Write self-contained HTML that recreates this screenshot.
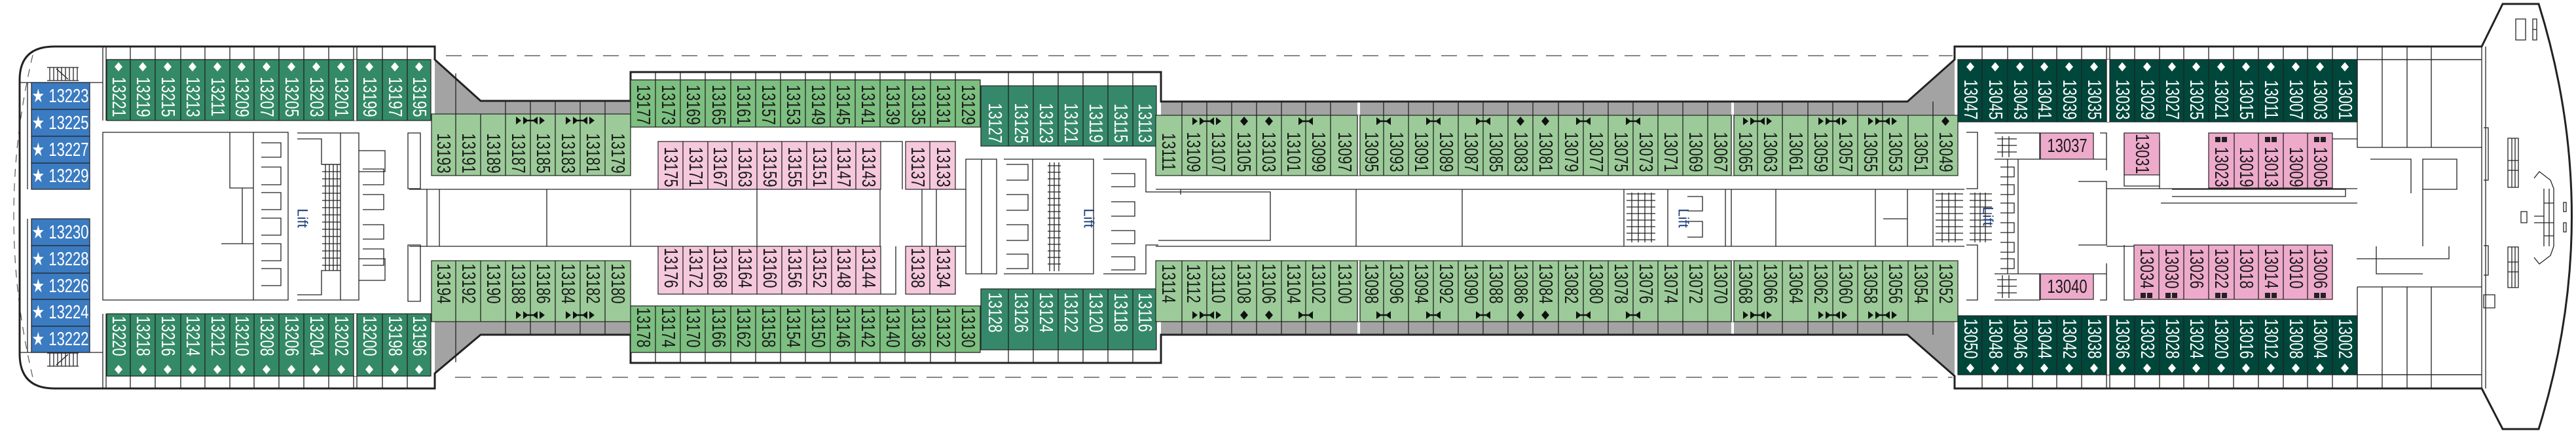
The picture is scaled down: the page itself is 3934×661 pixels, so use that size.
<!DOCTYPE html>
<html><head><meta charset="utf-8">
<style>
html,body{margin:0;padding:0;background:#fff;}
svg{display:block;}
.t{font-family:"Liberation Sans",sans-serif;font-size:22px;text-anchor:middle;dominant-baseline:central;fill:#1a1a1a;}
.w{fill:#fff;}
.h{font-family:"Liberation Sans",sans-serif;font-size:22px;text-anchor:middle;dominant-baseline:central;}
.l{font-family:"Liberation Sans",sans-serif;font-size:22px;text-anchor:middle;dominant-baseline:central;fill:#1d3f7d;}
.ln{fill:none;stroke:#222;stroke-width:1.3;}
.bd{stroke:#222;stroke-width:1.2;}
</style></head>
<body>
<svg width="3934" height="661" viewBox="0 0 3934 661" xmlns="http://www.w3.org/2000/svg">
<defs>
<path id="dm" d="M-6,0L0,-7L6,0L0,7Z"/>
<g id="ib"><path d="M-11,-6L-3,0L-11,6Z M11,-6L3,0L11,6Z" fill="#111"/><path d="M-4,0H4" stroke="#111" stroke-width="2.5"/></g>
<g id="ic"><path d="M-22,-6L-14,0L-22,6Z M-11,-6L-3,0L-11,6Z M11,-6L3,0L11,6Z M14,-6L22,0L14,6Z" fill="#111"/><path d="M-4,0H4" stroke="#111" stroke-width="2.5"/></g>
<g id="sq"><rect x="-9" y="-4" width="8" height="8" fill="#222"/><rect x="1" y="-4" width="8" height="8" fill="#222"/></g>
</defs>

<!-- grey fills -->
<path d="M664,91L734,154L734,174L664,174Z" fill="#a3a3a3"/>
<path d="M734,154H963V174H734Z" fill="#a3a3a3"/>
<path d="M664,570L734,511L734,491L664,491Z" fill="#a3a3a3"/>
<path d="M734,491H963V511H734Z" fill="#a3a3a3"/>
<path d="M1773,155H2913V176H1773Z" fill="#a3a3a3"/>
<path d="M1773,491H2913V511H1773Z" fill="#a3a3a3"/>
<path d="M2913,155L2985,91V176H2913Z" fill="#a3a3a3"/>
<path d="M2913,511L2985,574V491H2913Z" fill="#a3a3a3"/>
<path class="ln" d="M696,112V174M696,491V553M772,154V174M810,154V174M848,154V174M886,154V174M924,154V174M772,491V511M810,491V511M848,491V511M886,491V511M924,491V511"/>
<path class="ln" d="M1805,155V176M1843,155V176M1881,155V176M1919,155V176M1957,155V176M1994,155V176M2032,155V176M2075,155V176M2113,155V176M2151,155V176M2189,155V176M2227,155V176M2265,155V176M2303,155V176M2341,155V176M2380,155V176M2418,155V176M2456,155V176M2494,155V176M2532,155V176M2570,155V176M2608,155V176M2646,155V176M2684,155V176M2722,155V176M2761,155V176M2799,155V176M2837,155V176M2875,155V176M2952,155V176"/>
<path class="ln" d="M1805,491V511M1843,491V511M1881,491V511M1919,491V511M1957,491V511M1994,491V511M2032,491V511M2075,491V511M2113,491V511M2151,491V511M2189,491V511M2227,491V511M2265,491V511M2303,491V511M2341,491V511M2380,491V511M2418,491V511M2456,491V511M2494,491V511M2532,491V511M2570,491V511M2608,491V511M2646,491V511M2684,491V511M2722,491V511M2761,491V511M2799,491V511M2837,491V511M2875,491V511M2952,491V511"/>
<rect x="2073" y="155" width="4" height="113" fill="#fff"/><rect x="2644" y="155" width="4" height="113" fill="#fff"/>
<rect x="2073" y="398" width="4" height="113" fill="#fff"/><rect x="2644" y="398" width="4" height="113" fill="#fff"/>

<!-- dashed lines -->
<path d="M681,85H2982M695,576H2982" stroke="#888" stroke-width="2" stroke-dasharray="24,16" fill="none"/>
<path d="M50,84Q-8,330 50,576" stroke="#555" stroke-width="1.2" stroke-dasharray="12,10" fill="none"/>

<!-- balconies -->
<path class="ln" d="M163,91H658M163,574H658M199,71V91M237,71V91M276,71V91M313,71V91M351,71V91M388,71V91M426,71V91M464,71V91M502,71V91M540,71V91M545,71V91M584,71V91M622,71V91M199,574V593M237,574V593M276,574V593M313,574V593M351,574V593M388,574V593M426,574V593M464,574V593M502,574V593M540,574V593M545,574V593M584,574V593M622,574V593"/>
<path class="ln" d="M963,122H1497M963,538H1497M1001,110V122M1039,110V122M1077,110V122M1116,110V122M1154,110V122M1192,110V122M1230,110V122M1268,110V122M1306,110V122M1344,110V122M1382,110V122M1421,110V122M1459,110V122M1001,538V554M1039,538V554M1077,538V554M1116,538V554M1154,538V554M1192,538V554M1230,538V554M1268,538V554M1306,538V554M1344,538V554M1382,538V554M1421,538V554M1459,538V554"/>
<path class="ln" d="M1540,110V131M1578,110V131M1616,110V131M1654,110V131M1692,110V131M1730,110V131M1540,534V554M1578,534V554M1616,534V554M1654,534V554M1692,534V554M1730,534V554"/>
<path class="ln" d="M2990,91H3790M2990,572H3790M3027,71V91M3066,71V91M3104,71V91M3141,71V91M3179,71V91M3217,71V91M3222,71V91M3260,71V91M3298,71V91M3335,71V91M3373,71V91M3411,71V91M3449,71V91M3487,71V91M3524,71V91M3562,71V91M3600,71V91M3638,71V91M3676,71V91M3713,71V91M3027,572V593M3066,572V593M3104,572V593M3141,572V593M3179,572V593M3217,572V593M3222,572V593M3260,572V593M3298,572V593M3335,572V593M3373,572V593M3411,572V593M3449,572V593M3487,572V593M3524,572V593M3562,572V593M3600,572V593M3638,572V593M3676,572V593M3713,572V593"/>

<!-- hull -->
<path d="M83,71H664V91L734,154H963V110H1773V155H2913L2985,91V71H3790L3822,6H3877Q3978,330 3877,655H3822L3790,593H2985V574L2913,511H1773V554H963V511H734L664,570V593H83Q30,593 30,540V122Q30,71 83,71Z" fill="none" stroke="#222" stroke-width="3"/>
<path class="ln" d="M3790,71V593M3796,71V593M157,71V184M162,71V184M157,479V593M162,479V593M30,126H157M30,538H157M42,126V289M42,334V538"/>

<!-- left block blue -->
<g fill="#3b7bc1" class="bd">
<rect x="48" y="126" width="89" height="41"/><rect x="48" y="167" width="89" height="41"/><rect x="48" y="208" width="89" height="41"/><rect x="48" y="249" width="89" height="40"/>
<rect x="48" y="334" width="89" height="41"/><rect x="48" y="375" width="89" height="42"/><rect x="48" y="417" width="89" height="40"/><rect x="48" y="457" width="89" height="41"/><rect x="48" y="498" width="89" height="40"/>
</g>
<g class="h" fill="#fff">
<text transform="translate(92,147) scale(1,1.3)">★ 13223</text>
<text transform="translate(92,188) scale(1,1.3)">★ 13225</text>
<text transform="translate(92,229) scale(1,1.3)">★ 13227</text>
<text transform="translate(92,269) scale(1,1.3)">★ 13229</text>
<text transform="translate(92,355) scale(1,1.3)">★ 13230</text>
<text transform="translate(92,396) scale(1,1.3)">★ 13228</text>
<text transform="translate(92,437) scale(1,1.3)">★ 13226</text>
<text transform="translate(92,477) scale(1,1.3)">★ 13224</text>
<text transform="translate(92,518) scale(1,1.3)">★ 13222</text>
</g>
<!-- stair icons left -->
<path class="ln" d="M72,103H120M72,123H120M76,103V123M82,103V123M88,103V123M94,103V123M100,103V123M106,103V123M112,103V123M118,103V123M86,105L104,121M72,539H120M72,559H120M76,539V559M82,539V559M88,539V559M94,539V559M100,539V559M106,539V559M112,539V559M118,539V559M86,557L104,541"/>

<!-- left block cabins -->
<rect x="163" y="91" width="495" height="93" fill="#348a66" class="bd"/>
<rect x="163" y="479" width="495" height="95" fill="#348a66" class="bd"/>
<rect x="540" y="91" width="5" height="93" fill="#fff"/><rect x="540" y="479" width="5" height="95" fill="#fff"/>
<path class="ln" d="M199,91V184M237,91V184M276,91V184M313,91V184M351,91V184M388,91V184M426,91V184M464,91V184M502,91V184M540,91V184M545,91V184M584,91V184M622,91V184M199,479V574M237,479V574M276,479V574M313,479V574M351,479V574M388,479V574M426,479V574M464,479V574M502,479V574M540,479V574M545,479V574M584,479V574M622,479V574"/>
<g fill="#fff">
<use href="#dm" x="181" y="102"/><use href="#dm" x="218" y="102"/><use href="#dm" x="256" y="102"/><use href="#dm" x="294" y="102"/><use href="#dm" x="332" y="102"/><use href="#dm" x="369" y="102"/><use href="#dm" x="407" y="102"/><use href="#dm" x="445" y="102"/><use href="#dm" x="483" y="102"/><use href="#dm" x="521" y="102"/><use href="#dm" x="564" y="102"/><use href="#dm" x="603" y="102"/><use href="#dm" x="640" y="102"/>
<use href="#dm" x="181" y="564"/><use href="#dm" x="218" y="564"/><use href="#dm" x="256" y="564"/><use href="#dm" x="294" y="564"/><use href="#dm" x="332" y="564"/><use href="#dm" x="369" y="564"/><use href="#dm" x="407" y="564"/><use href="#dm" x="445" y="564"/><use href="#dm" x="483" y="564"/><use href="#dm" x="521" y="564"/><use href="#dm" x="564" y="564"/><use href="#dm" x="603" y="564"/><use href="#dm" x="640" y="564"/>
</g>
<g class="t w">
<text transform="translate(181,148) rotate(90) scale(1,1.3)">13221</text>
<text transform="translate(218,148) rotate(90) scale(1,1.3)">13219</text>
<text transform="translate(256,148) rotate(90) scale(1,1.3)">13215</text>
<text transform="translate(294,148) rotate(90) scale(1,1.3)">13213</text>
<text transform="translate(332,148) rotate(90) scale(1,1.3)">13211</text>
<text transform="translate(369,148) rotate(90) scale(1,1.3)">13209</text>
<text transform="translate(407,148) rotate(90) scale(1,1.3)">13207</text>
<text transform="translate(445,148) rotate(90) scale(1,1.3)">13205</text>
<text transform="translate(483,148) rotate(90) scale(1,1.3)">13203</text>
<text transform="translate(521,148) rotate(90) scale(1,1.3)">13201</text>
<text transform="translate(564,148) rotate(90) scale(1,1.3)">13199</text>
<text transform="translate(603,148) rotate(90) scale(1,1.3)">13197</text>
<text transform="translate(640,148) rotate(90) scale(1,1.3)">13195</text>
<text transform="translate(181,513) rotate(90) scale(1,1.3)">13220</text>
<text transform="translate(218,513) rotate(90) scale(1,1.3)">13218</text>
<text transform="translate(256,513) rotate(90) scale(1,1.3)">13216</text>
<text transform="translate(294,513) rotate(90) scale(1,1.3)">13214</text>
<text transform="translate(332,513) rotate(90) scale(1,1.3)">13212</text>
<text transform="translate(369,513) rotate(90) scale(1,1.3)">13210</text>
<text transform="translate(407,513) rotate(90) scale(1,1.3)">13208</text>
<text transform="translate(445,513) rotate(90) scale(1,1.3)">13206</text>
<text transform="translate(483,513) rotate(90) scale(1,1.3)">13204</text>
<text transform="translate(521,513) rotate(90) scale(1,1.3)">13202</text>
<text transform="translate(564,513) rotate(90) scale(1,1.3)">13200</text>
<text transform="translate(603,513) rotate(90) scale(1,1.3)">13198</text>
<text transform="translate(640,513) rotate(90) scale(1,1.3)">13196</text>
</g>

<!-- left block interior -->
<path class="ln" d="M157,202H387V458H157Z M351,202V287H387 M370,287V372 M338,372H387 M387,202H440V458H387 M399,218H429V240H399 M399,255H429V282H399 M399,294H429V320H399 M399,333H429V359H399 M399,372H429V398H399 M399,410H429V436H399 M454,203H548V458H454 M454,212H491V251H520V203 M454,450H491V413H520V458 M520,251V413 M548,230H588V262H548 M548,395H588V428H548 M554,258H586V282H554 M554,297H586V320H554 M554,343H586V365H554 M554,380H586V405H554 M623,203H642V288H623Z M623,374H642V460H623Z"/>
<path class="ln" d="M492,251H520M492,262H520M492,273H520M492,284H520M492,295H520M492,306H520M492,317H520M492,328H520M492,339H520M492,350H520M492,361H520M492,372H520M492,383H520M492,394H520M492,405H520M497,251V413M503,251V413M509,251V413M515,251V413" stroke-width="0.8"/>
<text class="l" transform="translate(462,333) rotate(90)">Lift</text>

<!-- mid-left inner cabins (light green) -->
<rect x="659" y="174" width="304" height="94" fill="#9ccb99" class="bd"/>
<rect x="659" y="398" width="304" height="93" fill="#9ccb99" class="bd"/>
<path class="ln" d="M696,174V268M734,174V268M772,174V268M810,174V268M848,174V268M886,174V268M924,174V268M696,398V491M734,398V491M772,398V491M810,398V491M848,398V491M886,398V491M924,398V491"/>
<use href="#ic" x="810" y="184"/><use href="#ic" x="886" y="184"/><use href="#ic" x="810" y="481"/><use href="#ic" x="886" y="481"/>
<g class="t">
<text transform="translate(677,234) rotate(90) scale(1,1.3)">13193</text>
<text transform="translate(715,234) rotate(90) scale(1,1.3)">13191</text>
<text transform="translate(753,234) rotate(90) scale(1,1.3)">13189</text>
<text transform="translate(791,234) rotate(90) scale(1,1.3)">13187</text>
<text transform="translate(829,234) rotate(90) scale(1,1.3)">13185</text>
<text transform="translate(867,234) rotate(90) scale(1,1.3)">13183</text>
<text transform="translate(905,234) rotate(90) scale(1,1.3)">13181</text>
<text transform="translate(943,234) rotate(90) scale(1,1.3)">13179</text>
<text transform="translate(677,433) rotate(90) scale(1,1.3)">13194</text>
<text transform="translate(715,433) rotate(90) scale(1,1.3)">13192</text>
<text transform="translate(753,433) rotate(90) scale(1,1.3)">13190</text>
<text transform="translate(791,433) rotate(90) scale(1,1.3)">13188</text>
<text transform="translate(829,433) rotate(90) scale(1,1.3)">13186</text>
<text transform="translate(867,433) rotate(90) scale(1,1.3)">13184</text>
<text transform="translate(905,433) rotate(90) scale(1,1.3)">13182</text>
<text transform="translate(943,433) rotate(90) scale(1,1.3)">13180</text>
</g>

<!-- mid block 963-1497 -->
<rect x="963" y="122" width="534" height="72" fill="#7cbf80" class="bd"/>
<rect x="963" y="467" width="534" height="71" fill="#7cbf80" class="bd"/>
<path class="ln" d="M1001,122V194M1039,122V194M1077,122V194M1116,122V194M1154,122V194M1192,122V194M1230,122V194M1268,122V194M1306,122V194M1344,122V194M1382,122V194M1421,122V194M1459,122V194M1001,467V538M1039,467V538M1077,467V538M1116,467V538M1154,467V538M1192,467V538M1230,467V538M1268,467V538M1306,467V538M1344,467V538M1382,467V538M1421,467V538M1459,467V538"/>
<g class="t">
<text transform="translate(982,160) rotate(90) scale(1,1.3)">13177</text>
<text transform="translate(1020,160) rotate(90) scale(1,1.3)">13173</text>
<text transform="translate(1058,160) rotate(90) scale(1,1.3)">13169</text>
<text transform="translate(1097,160) rotate(90) scale(1,1.3)">13165</text>
<text transform="translate(1135,160) rotate(90) scale(1,1.3)">13161</text>
<text transform="translate(1173,160) rotate(90) scale(1,1.3)">13157</text>
<text transform="translate(1211,160) rotate(90) scale(1,1.3)">13153</text>
<text transform="translate(1249,160) rotate(90) scale(1,1.3)">13149</text>
<text transform="translate(1287,160) rotate(90) scale(1,1.3)">13145</text>
<text transform="translate(1325,160) rotate(90) scale(1,1.3)">13141</text>
<text transform="translate(1363,160) rotate(90) scale(1,1.3)">13139</text>
<text transform="translate(1402,160) rotate(90) scale(1,1.3)">13135</text>
<text transform="translate(1440,160) rotate(90) scale(1,1.3)">13131</text>
<text transform="translate(1478,160) rotate(90) scale(1,1.3)">13129</text>
<text transform="translate(982,500) rotate(90) scale(1,1.3)">13178</text>
<text transform="translate(1020,500) rotate(90) scale(1,1.3)">13174</text>
<text transform="translate(1058,500) rotate(90) scale(1,1.3)">13170</text>
<text transform="translate(1097,500) rotate(90) scale(1,1.3)">13166</text>
<text transform="translate(1135,500) rotate(90) scale(1,1.3)">13162</text>
<text transform="translate(1173,500) rotate(90) scale(1,1.3)">13158</text>
<text transform="translate(1211,500) rotate(90) scale(1,1.3)">13154</text>
<text transform="translate(1249,500) rotate(90) scale(1,1.3)">13150</text>
<text transform="translate(1287,500) rotate(90) scale(1,1.3)">13146</text>
<text transform="translate(1325,500) rotate(90) scale(1,1.3)">13142</text>
<text transform="translate(1363,500) rotate(90) scale(1,1.3)">13140</text>
<text transform="translate(1402,500) rotate(90) scale(1,1.3)">13136</text>
<text transform="translate(1440,500) rotate(90) scale(1,1.3)">13132</text>
<text transform="translate(1478,500) rotate(90) scale(1,1.3)">13130</text>
</g>

<!-- pink mid-left -->
<rect x="1005" y="216" width="340" height="73" fill="#f6c8dc" class="bd"/>
<rect x="1383" y="216" width="76" height="73" fill="#f6c8dc" class="bd"/>
<rect x="1005" y="376" width="340" height="73" fill="#f6c8dc" class="bd"/>
<rect x="1383" y="376" width="76" height="73" fill="#f6c8dc" class="bd"/>
<path class="ln" d="M1043,216V289M1081,216V289M1118,216V289M1156,216V289M1194,216V289M1232,216V289M1270,216V289M1307,216V289M1420,216V289M1043,376V449M1081,376V449M1118,376V449M1156,376V449M1194,376V449M1232,376V449M1270,376V449M1307,376V449M1420,376V449 M1345,216H1378V289 M1345,449H1368V376"/>
<g class="t">
<text transform="translate(1024,255) rotate(90) scale(1,1.3)">13175</text>
<text transform="translate(1062,255) rotate(90) scale(1,1.3)">13171</text>
<text transform="translate(1099,255) rotate(90) scale(1,1.3)">13167</text>
<text transform="translate(1137,255) rotate(90) scale(1,1.3)">13163</text>
<text transform="translate(1175,255) rotate(90) scale(1,1.3)">13159</text>
<text transform="translate(1213,255) rotate(90) scale(1,1.3)">13155</text>
<text transform="translate(1251,255) rotate(90) scale(1,1.3)">13151</text>
<text transform="translate(1288,255) rotate(90) scale(1,1.3)">13147</text>
<text transform="translate(1326,255) rotate(90) scale(1,1.3)">13143</text>
<text transform="translate(1401,255) rotate(90) scale(1,1.3)">13137</text>
<text transform="translate(1440,255) rotate(90) scale(1,1.3)">13133</text>
<text transform="translate(1024,409) rotate(90) scale(1,1.3)">13176</text>
<text transform="translate(1062,409) rotate(90) scale(1,1.3)">13172</text>
<text transform="translate(1099,409) rotate(90) scale(1,1.3)">13168</text>
<text transform="translate(1137,409) rotate(90) scale(1,1.3)">13164</text>
<text transform="translate(1175,409) rotate(90) scale(1,1.3)">13160</text>
<text transform="translate(1213,409) rotate(90) scale(1,1.3)">13156</text>
<text transform="translate(1251,409) rotate(90) scale(1,1.3)">13152</text>
<text transform="translate(1288,409) rotate(90) scale(1,1.3)">13148</text>
<text transform="translate(1326,409) rotate(90) scale(1,1.3)">13144</text>
<text transform="translate(1401,409) rotate(90) scale(1,1.3)">13138</text>
<text transform="translate(1440,409) rotate(90) scale(1,1.3)">13134</text>
</g>

<!-- dark green middle block -->
<rect x="1498" y="131" width="268" height="92" fill="#35896a" class="bd"/>
<rect x="1498" y="441" width="268" height="93" fill="#35896a" class="bd"/>
<path class="ln" d="M1540,131V223M1578,131V223M1616,131V223M1654,131V223M1692,131V223M1730,131V223M1540,441V534M1578,441V534M1616,441V534M1654,441V534M1692,441V534M1730,441V534"/>
<g class="t w">
<text transform="translate(1519,188) rotate(90) scale(1,1.3)">13127</text>
<text transform="translate(1559,188) rotate(90) scale(1,1.3)">13125</text>
<text transform="translate(1597,188) rotate(90) scale(1,1.3)">13123</text>
<text transform="translate(1635,188) rotate(90) scale(1,1.3)">13121</text>
<text transform="translate(1673,188) rotate(90) scale(1,1.3)">13119</text>
<text transform="translate(1711,188) rotate(90) scale(1,1.3)">13115</text>
<text transform="translate(1748,188) rotate(90) scale(1,1.3)">13113</text>
<text transform="translate(1519,477) rotate(90) scale(1,1.3)">13128</text>
<text transform="translate(1559,477) rotate(90) scale(1,1.3)">13126</text>
<text transform="translate(1597,477) rotate(90) scale(1,1.3)">13124</text>
<text transform="translate(1635,477) rotate(90) scale(1,1.3)">13122</text>
<text transform="translate(1673,477) rotate(90) scale(1,1.3)">13120</text>
<text transform="translate(1711,477) rotate(90) scale(1,1.3)">13118</text>
<text transform="translate(1748,477) rotate(90) scale(1,1.3)">13116</text>
</g>

<!-- center lift block + corridor -->
<path class="ln" d="M625,289H1005M625,376H1005M1459,289H1475M1459,376H1475M652,289V376M671,289V376M835,289V376M963,289V376M1156,289V376M1344,289V376M1408,289V376M1430,289V376"/>
<path class="ln" d="M1475,243H1522V418H1475Z M1499,243V418 M1533,243H1670V418H1533 M1537,251H1570V275H1537 M1537,297H1570V321H1537 M1537,343H1570V367H1537 M1537,388H1570V410H1537 M1577,243V418 M1685,243H1750V293H1769 M1685,418H1750V374H1769 M1697,265H1733V285H1697 M1697,308H1733V330H1697 M1697,352H1733V372H1697 M1697,392H1733V412H1697"/>
<path class="ln" d="M1600,253H1620M1600,263H1620M1600,273H1620M1600,283H1620M1600,293H1620M1600,303H1620M1600,313H1620M1600,323H1620M1600,333H1620M1600,343H1620M1600,353H1620M1600,363H1620M1600,373H1620M1600,383H1620M1600,393H1620M1600,403H1620M1603,248V414M1610,248V414M1617,248V414" stroke-width="0.8"/>
<text class="l" transform="translate(1663,333) rotate(90)">Lift</text>
<path class="ln" d="M1765,289H3000M1765,376H3000M1769,293H1940V367H1769 M1803,289V297 M2071,289V376M2233,289V376M2480,289V376M2547,289V376M2564,289H2635V376H2564 M2577,300H2600V322H2577 M2577,338H2600V362H2577 M2644,289V376M2712,289V376M2864,289V376M2876,334H2913V376 M2913,289V376M2952,289V376"/>
<path class="ln" d="M2484,296H2528M2484,306H2528M2484,316H2528M2484,326H2528M2484,336H2528M2484,346H2528M2484,356H2528M2484,366H2528M2492,294V370M2502,294V370M2512,294V370M2522,294V370M2956,296H2998M2956,306H2998M2956,316H2998M2956,326H2998M2956,336H2998M2956,346H2998M2956,356H2998M2956,366H2998M2966,294V370M2976,294V370M2986,294V370" stroke-width="0.8"/>
<text class="l" transform="translate(2571,333) rotate(90)">Lift</text>

<!-- mid-right light green rows -->
<rect x="1765" y="176" width="1225" height="92" fill="#9ccb99" class="bd"/>
<rect x="1765" y="398" width="1225" height="93" fill="#9ccb99" class="bd"/>
<rect x="2073" y="176" width="4" height="92" fill="#fff"/><rect x="2644" y="176" width="4" height="92" fill="#fff"/>
<rect x="2073" y="398" width="4" height="93" fill="#fff"/><rect x="2644" y="398" width="4" height="93" fill="#fff"/>
<path class="ln" d="M1805,176V268M1843,176V268M1881,176V268M1919,176V268M1957,176V268M1994,176V268M2032,176V268M2073,176V268M2077,176V268M2113,176V268M2151,176V268M2189,176V268M2227,176V268M2265,176V268M2303,176V268M2341,176V268M2380,176V268M2418,176V268M2456,176V268M2494,176V268M2532,176V268M2570,176V268M2608,176V268M2644,176V268M2648,176V268M2684,176V268M2722,176V268M2761,176V268M2799,176V268M2837,176V268M2875,176V268M2914,176V268M2952,176V268"/>
<path class="ln" d="M1805,398V491M1843,398V491M1881,398V491M1919,398V491M1957,398V491M1994,398V491M2032,398V491M2073,398V491M2077,398V491M2113,398V491M2151,398V491M2189,398V491M2227,398V491M2265,398V491M2303,398V491M2341,398V491M2380,398V491M2418,398V491M2456,398V491M2494,398V491M2532,398V491M2570,398V491M2608,398V491M2644,398V491M2648,398V491M2684,398V491M2722,398V491M2761,398V491M2799,398V491M2837,398V491M2875,398V491M2914,398V491M2952,398V491"/>
<g>
<use href="#ic" x="1843" y="185"/><use href="#ib" x="1994" y="185"/><use href="#ib" x="2113" y="185"/><use href="#ib" x="2189" y="185"/><use href="#ib" x="2265" y="185"/><use href="#ib" x="2418" y="185"/><use href="#ib" x="2494" y="185"/><use href="#ic" x="2684" y="185"/><use href="#ic" x="2799" y="185"/><use href="#ic" x="2875" y="185"/>
<use href="#ic" x="1843" y="481"/><use href="#ib" x="1994" y="481"/><use href="#ib" x="2113" y="481"/><use href="#ib" x="2189" y="481"/><use href="#ib" x="2265" y="481"/><use href="#ib" x="2418" y="481"/><use href="#ib" x="2494" y="481"/><use href="#ic" x="2684" y="481"/><use href="#ic" x="2799" y="481"/><use href="#ic" x="2875" y="481"/>
</g>
<g fill="#111">
<use href="#dm" x="1900" y="185"/><use href="#dm" x="1938" y="185"/><use href="#dm" x="2322" y="185"/><use href="#dm" x="2360" y="185"/><use href="#dm" x="2971" y="185"/>
<use href="#dm" x="1900" y="481"/><use href="#dm" x="1938" y="481"/><use href="#dm" x="2322" y="481"/><use href="#dm" x="2360" y="481"/>
</g>
<g class="t">
<text transform="translate(1784,232) rotate(90) scale(1,1.3)">13111</text>
<text transform="translate(1822,232) rotate(90) scale(1,1.3)">13109</text>
<text transform="translate(1860,232) rotate(90) scale(1,1.3)">13107</text>
<text transform="translate(1899,232) rotate(90) scale(1,1.3)">13105</text>
<text transform="translate(1937,232) rotate(90) scale(1,1.3)">13103</text>
<text transform="translate(1975,232) rotate(90) scale(1,1.3)">13101</text>
<text transform="translate(2013,232) rotate(90) scale(1,1.3)">13099</text>
<text transform="translate(2053,232) rotate(90) scale(1,1.3)">13097</text>
<text transform="translate(2094,232) rotate(90) scale(1,1.3)">13095</text>
<text transform="translate(2132,232) rotate(90) scale(1,1.3)">13093</text>
<text transform="translate(2170,232) rotate(90) scale(1,1.3)">13091</text>
<text transform="translate(2208,232) rotate(90) scale(1,1.3)">13089</text>
<text transform="translate(2246,232) rotate(90) scale(1,1.3)">13087</text>
<text transform="translate(2284,232) rotate(90) scale(1,1.3)">13085</text>
<text transform="translate(2322,232) rotate(90) scale(1,1.3)">13083</text>
<text transform="translate(2360,232) rotate(90) scale(1,1.3)">13081</text>
<text transform="translate(2399,232) rotate(90) scale(1,1.3)">13079</text>
<text transform="translate(2437,232) rotate(90) scale(1,1.3)">13077</text>
<text transform="translate(2475,232) rotate(90) scale(1,1.3)">13075</text>
<text transform="translate(2513,232) rotate(90) scale(1,1.3)">13073</text>
<text transform="translate(2551,232) rotate(90) scale(1,1.3)">13071</text>
<text transform="translate(2589,232) rotate(90) scale(1,1.3)">13069</text>
<text transform="translate(2627,232) rotate(90) scale(1,1.3)">13067</text>
<text transform="translate(2665,232) rotate(90) scale(1,1.3)">13065</text>
<text transform="translate(2703,232) rotate(90) scale(1,1.3)">13063</text>
<text transform="translate(2742,232) rotate(90) scale(1,1.3)">13061</text>
<text transform="translate(2780,232) rotate(90) scale(1,1.3)">13059</text>
<text transform="translate(2818,232) rotate(90) scale(1,1.3)">13057</text>
<text transform="translate(2856,232) rotate(90) scale(1,1.3)">13055</text>
<text transform="translate(2894,232) rotate(90) scale(1,1.3)">13053</text>
<text transform="translate(2933,232) rotate(90) scale(1,1.3)">13051</text>
<text transform="translate(2971,232) rotate(90) scale(1,1.3)">13049</text>
<text transform="translate(1784,433) rotate(90) scale(1,1.3)">13114</text>
<text transform="translate(1822,433) rotate(90) scale(1,1.3)">13112</text>
<text transform="translate(1860,433) rotate(90) scale(1,1.3)">13110</text>
<text transform="translate(1899,433) rotate(90) scale(1,1.3)">13108</text>
<text transform="translate(1937,433) rotate(90) scale(1,1.3)">13106</text>
<text transform="translate(1975,433) rotate(90) scale(1,1.3)">13104</text>
<text transform="translate(2013,433) rotate(90) scale(1,1.3)">13102</text>
<text transform="translate(2053,433) rotate(90) scale(1,1.3)">13100</text>
<text transform="translate(2094,433) rotate(90) scale(1,1.3)">13098</text>
<text transform="translate(2132,433) rotate(90) scale(1,1.3)">13096</text>
<text transform="translate(2170,433) rotate(90) scale(1,1.3)">13094</text>
<text transform="translate(2208,433) rotate(90) scale(1,1.3)">13092</text>
<text transform="translate(2246,433) rotate(90) scale(1,1.3)">13090</text>
<text transform="translate(2284,433) rotate(90) scale(1,1.3)">13088</text>
<text transform="translate(2322,433) rotate(90) scale(1,1.3)">13086</text>
<text transform="translate(2360,433) rotate(90) scale(1,1.3)">13084</text>
<text transform="translate(2399,433) rotate(90) scale(1,1.3)">13082</text>
<text transform="translate(2437,433) rotate(90) scale(1,1.3)">13080</text>
<text transform="translate(2475,433) rotate(90) scale(1,1.3)">13078</text>
<text transform="translate(2513,433) rotate(90) scale(1,1.3)">13076</text>
<text transform="translate(2551,433) rotate(90) scale(1,1.3)">13074</text>
<text transform="translate(2589,433) rotate(90) scale(1,1.3)">13072</text>
<text transform="translate(2627,433) rotate(90) scale(1,1.3)">13070</text>
<text transform="translate(2665,433) rotate(90) scale(1,1.3)">13068</text>
<text transform="translate(2703,433) rotate(90) scale(1,1.3)">13066</text>
<text transform="translate(2742,433) rotate(90) scale(1,1.3)">13064</text>
<text transform="translate(2780,433) rotate(90) scale(1,1.3)">13062</text>
<text transform="translate(2818,433) rotate(90) scale(1,1.3)">13060</text>
<text transform="translate(2856,433) rotate(90) scale(1,1.3)">13058</text>
<text transform="translate(2894,433) rotate(90) scale(1,1.3)">13056</text>
<text transform="translate(2933,433) rotate(90) scale(1,1.3)">13054</text>
<text transform="translate(2971,433) rotate(90) scale(1,1.3)">13052</text>
</g>

<!-- right block teal -->
<rect x="2990" y="91" width="610" height="95" fill="#00473b" class="bd"/>
<rect x="2990" y="482" width="610" height="90" fill="#00473b" class="bd"/>
<rect x="3217" y="91" width="5" height="95" fill="#fff"/><rect x="3217" y="482" width="5" height="90" fill="#fff"/>
<path class="ln" d="M3027,91V186M3066,91V186M3104,91V186M3141,91V186M3179,91V186M3217,91V186M3222,91V186M3260,91V186M3298,91V186M3335,91V186M3373,91V186M3411,91V186M3449,91V186M3487,91V186M3524,91V186M3562,91V186M3027,482V572M3066,482V572M3104,482V572M3141,482V572M3179,482V572M3217,482V572M3222,482V572M3260,482V572M3298,482V572M3335,482V572M3373,482V572M3411,482V572M3449,482V572M3487,482V572M3524,482V572M3562,482V572"/>
<g fill="#fff">
<use href="#dm" x="3009" y="102"/><use href="#dm" x="3047" y="102"/><use href="#dm" x="3085" y="102"/><use href="#dm" x="3122" y="102"/><use href="#dm" x="3160" y="102"/><use href="#dm" x="3198" y="102"/><use href="#dm" x="3241" y="102"/><use href="#dm" x="3279" y="102"/><use href="#dm" x="3317" y="102"/><use href="#dm" x="3354" y="102"/><use href="#dm" x="3392" y="102"/><use href="#dm" x="3430" y="102"/><use href="#dm" x="3468" y="102"/><use href="#dm" x="3506" y="102"/><use href="#dm" x="3543" y="102"/><use href="#dm" x="3581" y="102"/>
<use href="#dm" x="3009" y="562"/><use href="#dm" x="3047" y="562"/><use href="#dm" x="3085" y="562"/><use href="#dm" x="3122" y="562"/><use href="#dm" x="3160" y="562"/><use href="#dm" x="3198" y="562"/><use href="#dm" x="3241" y="562"/><use href="#dm" x="3279" y="562"/><use href="#dm" x="3317" y="562"/><use href="#dm" x="3354" y="562"/><use href="#dm" x="3392" y="562"/><use href="#dm" x="3430" y="562"/><use href="#dm" x="3468" y="562"/><use href="#dm" x="3506" y="562"/><use href="#dm" x="3543" y="562"/><use href="#dm" x="3581" y="562"/>
</g>
<g class="t w">
<text transform="translate(3009,152) rotate(90) scale(1,1.3)">13047</text>
<text transform="translate(3047,152) rotate(90) scale(1,1.3)">13045</text>
<text transform="translate(3085,152) rotate(90) scale(1,1.3)">13043</text>
<text transform="translate(3122,152) rotate(90) scale(1,1.3)">13041</text>
<text transform="translate(3160,152) rotate(90) scale(1,1.3)">13039</text>
<text transform="translate(3198,152) rotate(90) scale(1,1.3)">13035</text>
<text transform="translate(3241,152) rotate(90) scale(1,1.3)">13033</text>
<text transform="translate(3279,152) rotate(90) scale(1,1.3)">13029</text>
<text transform="translate(3317,152) rotate(90) scale(1,1.3)">13027</text>
<text transform="translate(3354,152) rotate(90) scale(1,1.3)">13025</text>
<text transform="translate(3392,152) rotate(90) scale(1,1.3)">13021</text>
<text transform="translate(3430,152) rotate(90) scale(1,1.3)">13015</text>
<text transform="translate(3468,152) rotate(90) scale(1,1.3)">13011</text>
<text transform="translate(3506,152) rotate(90) scale(1,1.3)">13007</text>
<text transform="translate(3543,152) rotate(90) scale(1,1.3)">13003</text>
<text transform="translate(3581,152) rotate(90) scale(1,1.3)">13001</text>
<text transform="translate(3009,517) rotate(90) scale(1,1.3)">13050</text>
<text transform="translate(3047,517) rotate(90) scale(1,1.3)">13048</text>
<text transform="translate(3085,517) rotate(90) scale(1,1.3)">13046</text>
<text transform="translate(3122,517) rotate(90) scale(1,1.3)">13044</text>
<text transform="translate(3160,517) rotate(90) scale(1,1.3)">13042</text>
<text transform="translate(3198,517) rotate(90) scale(1,1.3)">13038</text>
<text transform="translate(3241,517) rotate(90) scale(1,1.3)">13036</text>
<text transform="translate(3279,517) rotate(90) scale(1,1.3)">13032</text>
<text transform="translate(3317,517) rotate(90) scale(1,1.3)">13028</text>
<text transform="translate(3354,517) rotate(90) scale(1,1.3)">13024</text>
<text transform="translate(3392,517) rotate(90) scale(1,1.3)">13020</text>
<text transform="translate(3430,517) rotate(90) scale(1,1.3)">13016</text>
<text transform="translate(3468,517) rotate(90) scale(1,1.3)">13012</text>
<text transform="translate(3506,517) rotate(90) scale(1,1.3)">13008</text>
<text transform="translate(3543,517) rotate(90) scale(1,1.3)">13004</text>
<text transform="translate(3581,517) rotate(90) scale(1,1.3)">13002</text>
</g>

<!-- right block rooms -->
<path class="ln" d="M3600,91H3790M3600,91V225H3790M3638,91V225M3676,91V225M3713,91V225M3600,438H3790M3600,438V572H3790M3638,438V572M3676,438V572M3713,438V572"/>
<path class="ln" d="M3003,202H3020V288H3003M3003,374H3020V458H3003M3046,203H3115V243H3046M3046,418H3115V458H3046M3066,243V418M3082,243V418M3055,255H3076V270H3055M3055,282H3076V297H3055M3055,310H3076V325H3055M3055,340H3076V355H3055M3055,370H3076V385H3055M3055,395H3076V410H3055M3197,243H3217V260M3197,418H3217V402M3207,203H3217V260M3207,458H3217V402M3174,277H3217V374H3174M3217,288H3600M3217,376H3558M3244,203V284H3298M3244,374V458H3259M3298,216V288 M3300,310H3600M3317,289H3582V300H3317 M3620,243H3682V295M3700,243H3752V289H3700Z M3562,212H3600M3700,289V376M3629,376V418H3700M3599,395H3740V376"/>
<path class="ln" d="M3008,296H3042M3008,306H3042M3008,316H3042M3008,326H3042M3008,336H3042M3008,346H3042M3008,356H3042M3008,366H3042M3016,294V370M3024,294V370M3032,294V370M3050,212H3080M3050,222H3080M3050,232H3080M3050,427H3080M3050,437H3080M3050,447H3080M3058,208V240M3068,208V240M3058,420V455M3068,420V455" stroke-width="0.8"/>
<text class="l" transform="translate(3036,330) rotate(90)">Lift</text>

<!-- right pink -->
<g fill="#eeaacb" class="bd">
<rect x="3116" y="203" width="81" height="40"/>
<rect x="3116" y="418" width="81" height="39"/>
<rect x="3244" y="203" width="54" height="64"/>
<rect x="3373" y="203" width="189" height="84"/>
<rect x="3259" y="374" width="303" height="83"/>
</g>
<path class="ln" d="M3412,203V287M3449,203V287M3487,203V287M3524,203V287M3297,374V457M3335,374V457M3373,374V457M3412,374V457M3449,374V457M3487,374V457M3524,374V457"/>
<g class="h" fill="#1a1a1a">
<text transform="translate(3157,223) scale(1,1.3)">13037</text>
<text transform="translate(3157,438) scale(1,1.3)">13040</text>
</g>
<use href="#sq" x="3392" y="213"/><use href="#sq" x="3468" y="213"/><use href="#sq" x="3543" y="213"/>
<use href="#sq" x="3278" y="451"/><use href="#sq" x="3316" y="451"/><use href="#sq" x="3392" y="451"/><use href="#sq" x="3468" y="451"/><use href="#sq" x="3543" y="451"/>
<g class="t">
<text transform="translate(3271,235) rotate(90) scale(1,1.3)">13031</text>
<text transform="translate(3392,255) rotate(90) scale(1,1.3)">13023</text>
<text transform="translate(3430,255) rotate(90) scale(1,1.3)">13019</text>
<text transform="translate(3468,255) rotate(90) scale(1,1.3)">13013</text>
<text transform="translate(3506,255) rotate(90) scale(1,1.3)">13009</text>
<text transform="translate(3543,255) rotate(90) scale(1,1.3)">13005</text>
<text transform="translate(3278,410) rotate(90) scale(1,1.3)">13034</text>
<text transform="translate(3316,410) rotate(90) scale(1,1.3)">13030</text>
<text transform="translate(3354,410) rotate(90) scale(1,1.3)">13026</text>
<text transform="translate(3392,410) rotate(90) scale(1,1.3)">13022</text>
<text transform="translate(3430,410) rotate(90) scale(1,1.3)">13018</text>
<text transform="translate(3468,410) rotate(90) scale(1,1.3)">13014</text>
<text transform="translate(3506,410) rotate(90) scale(1,1.3)">13010</text>
<text transform="translate(3543,410) rotate(90) scale(1,1.3)">13006</text>
</g>

<!-- bow details -->
<path class="ln" d="M3842,29H3857V61H3842Z M3868,29H3874V61H3868Z M3868,45H3874 M3793,195H3800V275H3793 M3793,375H3800V420H3793 M3830,211H3846V286H3830Z M3836,211V286M3841,211V286M3830,245H3846M3830,260H3846M3830,377H3846V439H3830Z M3836,377V439M3841,377V439M3830,400H3846M3830,415H3846 M3850,323H3859V340H3850Z M3915,309H3919V323H3915Z M3915,340H3919V354H3915Z M3870,272L3878,262L3895,275L3900,288V376L3895,390L3878,403L3870,393 M3885,288V376M3893,288V376M3885,310H3900M3885,340H3900M3885,360H3900 M3870,330H3885V340H3870 M3793,450H3810V470H3793Z"/>
</svg>
</body></html>
